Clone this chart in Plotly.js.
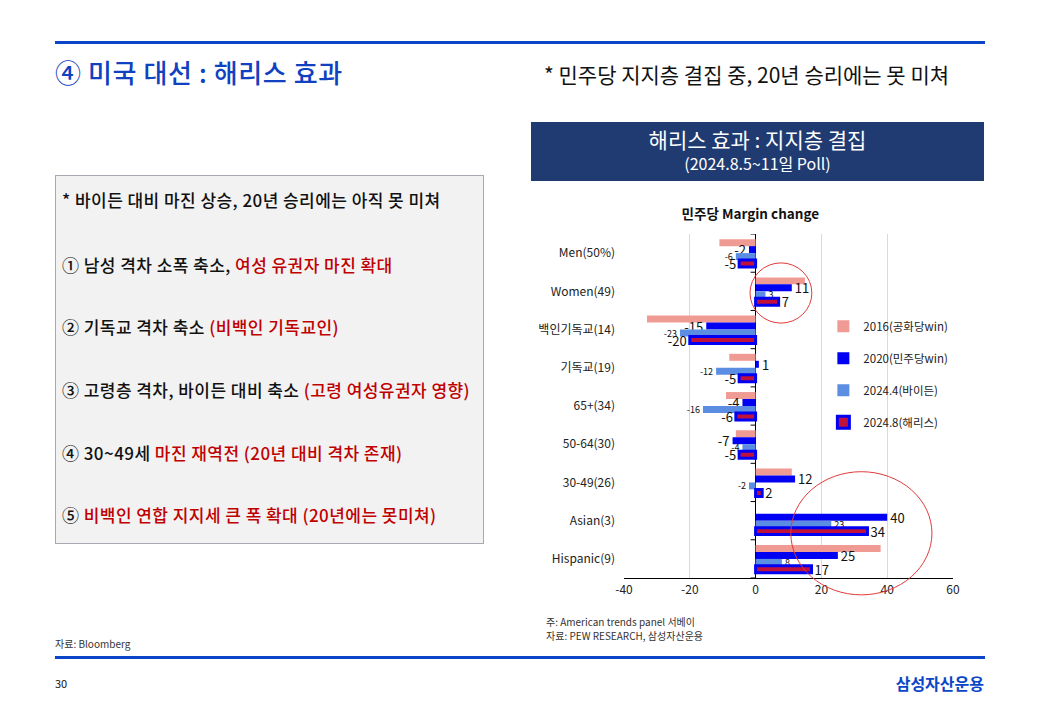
<!DOCTYPE html>
<html>
<head>
<meta charset="utf-8">
<script src="https://cdn.plot.ly/plotly-3.0.1.min.js"></script>
<style>
  html, body { margin: 0; padding: 0; background: #ffffff; }
  body { width: 1040px; height: 720px; position: relative; overflow: hidden; font-family: "Noto Sans CJK KR", "Noto Sans", sans-serif; }
  #chart { position: absolute; left: 0; top: 0; width: 1040px; height: 720px; }
  .abs { position: absolute; white-space: nowrap; }
  .hline { position: absolute; height: 3px; background: #0b46c8; }
  .red { color: #c00000; }
  .bx { position: absolute; left: 62px; font-size: 17px; line-height: 22px; color: #111; font-weight: 500; letter-spacing: 0.45px; white-space: nowrap; }
</style>
</head>
<body>
<div id="chart"></div>

<div class="hline" style="left:55px; top:41px; width:930px;"></div>
<div class="abs" style="left:55px; top:55px; font-size:26px; line-height:34px; color:#1041c0; font-weight:500; letter-spacing:0.6px;">④ 미국 대선 : 해리스 효과</div>
<div class="abs" style="left:544px; top:60px; font-size:21px; line-height:29px; color:#111;">* 민주당 지지층 결집 중, 20년 승리에는 못 미쳐</div>

<div class="abs" style="left:531px; top:122px; width:453px; height:59px; background:#1f3b72;"></div>
<div class="abs" style="left:531px; top:125px; width:453px; text-align:center; font-size:21px; line-height:29px; color:#ffffff;">해리스 효과 : 지지층 결집</div>
<div class="abs" style="left:531px; top:152px; width:453px; text-align:center; font-size:16px; line-height:23px; color:#ffffff;">(2024.8.5~11일 Poll)</div>

<div class="abs" style="left:55px; top:175px; width:427px; height:367px; background:#f2f2f2; border:1px solid #a9a9b4;"></div>
<div class="bx" style="top:189px;">* 바이든 대비 마진 상승, 20년 승리에는 아직 못 미쳐</div>
<div class="bx" style="top:254px;">① 남성 격차 소폭 축소, <span class="red">여성 유권자 마진 확대</span></div>
<div class="bx" style="top:316px;">② 기독교 격차 축소 <span class="red">(비백인 기독교인)</span></div>
<div class="bx" style="top:379px;">③ 고령층 격차, 바이든 대비 축소 <span class="red">(고령 여성유권자 영향)</span></div>
<div class="bx" style="top:442px;">④ 30~49세 <span class="red">마진 재역전 (20년 대비 격차 존재)</span></div>
<div class="bx" style="top:504px;">⑤ <span class="red">비백인 연합 지지세 큰 폭 확대 (20년에는 못미쳐)</span></div>

<div class="abs" style="left:546px; top:615px; font-size:10px; line-height:14px; color:#333;">주: American trends panel 서베이</div>
<div class="abs" style="left:546px; top:629px; font-size:10px; line-height:14px; color:#333;">자료: PEW RESEARCH, 삼성자산운용</div>
<div class="abs" style="left:55px; top:637px; font-size:10px; line-height:14px; color:#333;">자료: Bloomberg</div>

<div class="hline" style="left:55px; top:656px; width:930px;"></div>
<div class="abs" style="left:55px; top:675px; font-size:11px; line-height:16px; color:#111;">30</div>
<div class="abs" style="left:800px; top:672px; width:184px; text-align:right; font-size:16px; line-height:22px; color:#0b46c8; font-weight:bold;">삼성자산운용</div>

<script>
const categories = ['Men(50%)', 'Women(49)', '백인기독교(14)', '기독교(19)', '65+(34)', '50-64(30)', '30-49(26)', 'Asian(3)', 'Hispanic(9)'];
const seriesNames = ['2016(공화당win)', '2020(민주당win)', '2024.4(바이든)', '2024.8(해리스)'];
const y2016 = [-11, 15, -33, -8, -9, -6, 11, null, 38];
const y2020 = [-2, 11, -15, 1, -4, -7, 12, 40, 25];
const y2024Apr = [-6, 3, -23, -12, -16, -4, -2, 23, 8];
const y2024Aug = [-5, 7, -20, -5, -6, -5, 2, 34, 17];
const xTicks = [-40, -20, 0, 20, 40, 60];

const FONT = '"Noto Sans CJK KR", "Noto Sans", sans-serif';
const lbl = arr => arr.map(v => v === null ? '' : String(v));

const traces = [
  { name: seriesNames[0], x: y2016, marker: { color: '#f09a94', line: { width: 0 } }, showText: false, size: 12 },
  { name: seriesNames[1], x: y2020, marker: { color: '#0000f2', line: { width: 0 } }, showText: true, size: 13 },
  { name: seriesNames[2], x: y2024Apr, marker: { color: '#5b8de2', line: { width: 0 } }, showText: true, size: 9 },
  { name: seriesNames[3], x: y2024Aug, marker: { color: '#c0103c', line: { width: 3, color: '#0000f2' } }, showText: true, size: 13 }
].map((t, i) => ({
  type: 'bar',
  orientation: 'h',
  name: t.name,
  legendgroup: 'g' + i,
  x: t.x,
  y: categories,
  marker: t.marker,
  text: t.showText ? lbl(t.x) : undefined,
  textposition: t.showText ? 'outside' : 'none',
  textfont: { size: t.size, color: '#111', family: FONT },
  constraintext: 'none',
  cliponaxis: false,
  hoverinfo: 'x+name'
}));

const shapes = [];
for (let i = 0; i <= categories.length; i++) {
  shapes.push({
    type: 'line', xref: 'x', yref: 'y', xsizemode: 'pixel', xanchor: 0,
    x0: -5, x1: 0, y0: i - 0.5, y1: i - 0.5,
    line: { color: '#000', width: 1 }
  });
}
// highlight circles (paper coordinates so they are not clipped by the plot area)
shapes.push({ type: 'circle', xref: 'paper', yref: 'paper', x0: 0.383, x1: 0.571, y0: 0.741, y1: 0.916, line: { color: '#e23a3a', width: 1 } });
shapes.push({ type: 'circle', xref: 'paper', yref: 'paper', x0: 0.507, x1: 0.936, y0: -0.049, y1: 0.309, line: { color: '#e23a3a', width: 1 } });

const layout = {
  width: 1040, height: 720,
  margin: { l: 624, r: 87, t: 234, b: 142, pad: 0 },
  paper_bgcolor: 'rgba(0,0,0,0)',
  plot_bgcolor: 'rgba(0,0,0,0)',
  font: { family: FONT, size: 11, color: '#222' },
  barmode: 'group',
  bargap: 0.27,
  bargroupgap: 0,
  showlegend: true,
  legend: {
    x: 0.606, y: 0.774, xanchor: 'left', yanchor: 'top',
    itemwidth: 30,
    bgcolor: 'rgba(0,0,0,0)', traceorder: 'grouped', tracegroupgap: 13,
    font: { size: 11.5, color: '#222', family: FONT }
  },
  title: {
    text: '<b>민주당 Margin change</b>',
    font: { size: 13.5, color: '#111', family: FONT },
    x: 0.384, xref: 'paper', xanchor: 'center',
    y: 1 - 214 / 720, yref: 'container', yanchor: 'middle'
  },
  xaxis: {
    range: [-40, 60], tickvals: xTicks, ticktext: xTicks.map(String),
    showgrid: true, gridcolor: '#d9d9d9', gridwidth: 1,
    zeroline: true, zerolinecolor: '#000', zerolinewidth: 1.3,
    showline: true, linecolor: '#000', linewidth: 1.3,
    ticks: '', tickfont: { size: 12, color: '#222', family: FONT },
    fixedrange: true
  },
  yaxis: {
    type: 'category', autorange: false, range: [categories.length - 0.5, -0.5],
    showgrid: false, zeroline: false, showline: false, ticks: '',
    ticklabelstandoff: 8,
    tickfont: { size: 12, color: '#222', family: FONT },
    fixedrange: true
  },
  shapes: shapes
};

Plotly.newPlot('chart', traces, layout, { displayModeBar: false, staticPlot: true });
</script>
</body>
</html>
